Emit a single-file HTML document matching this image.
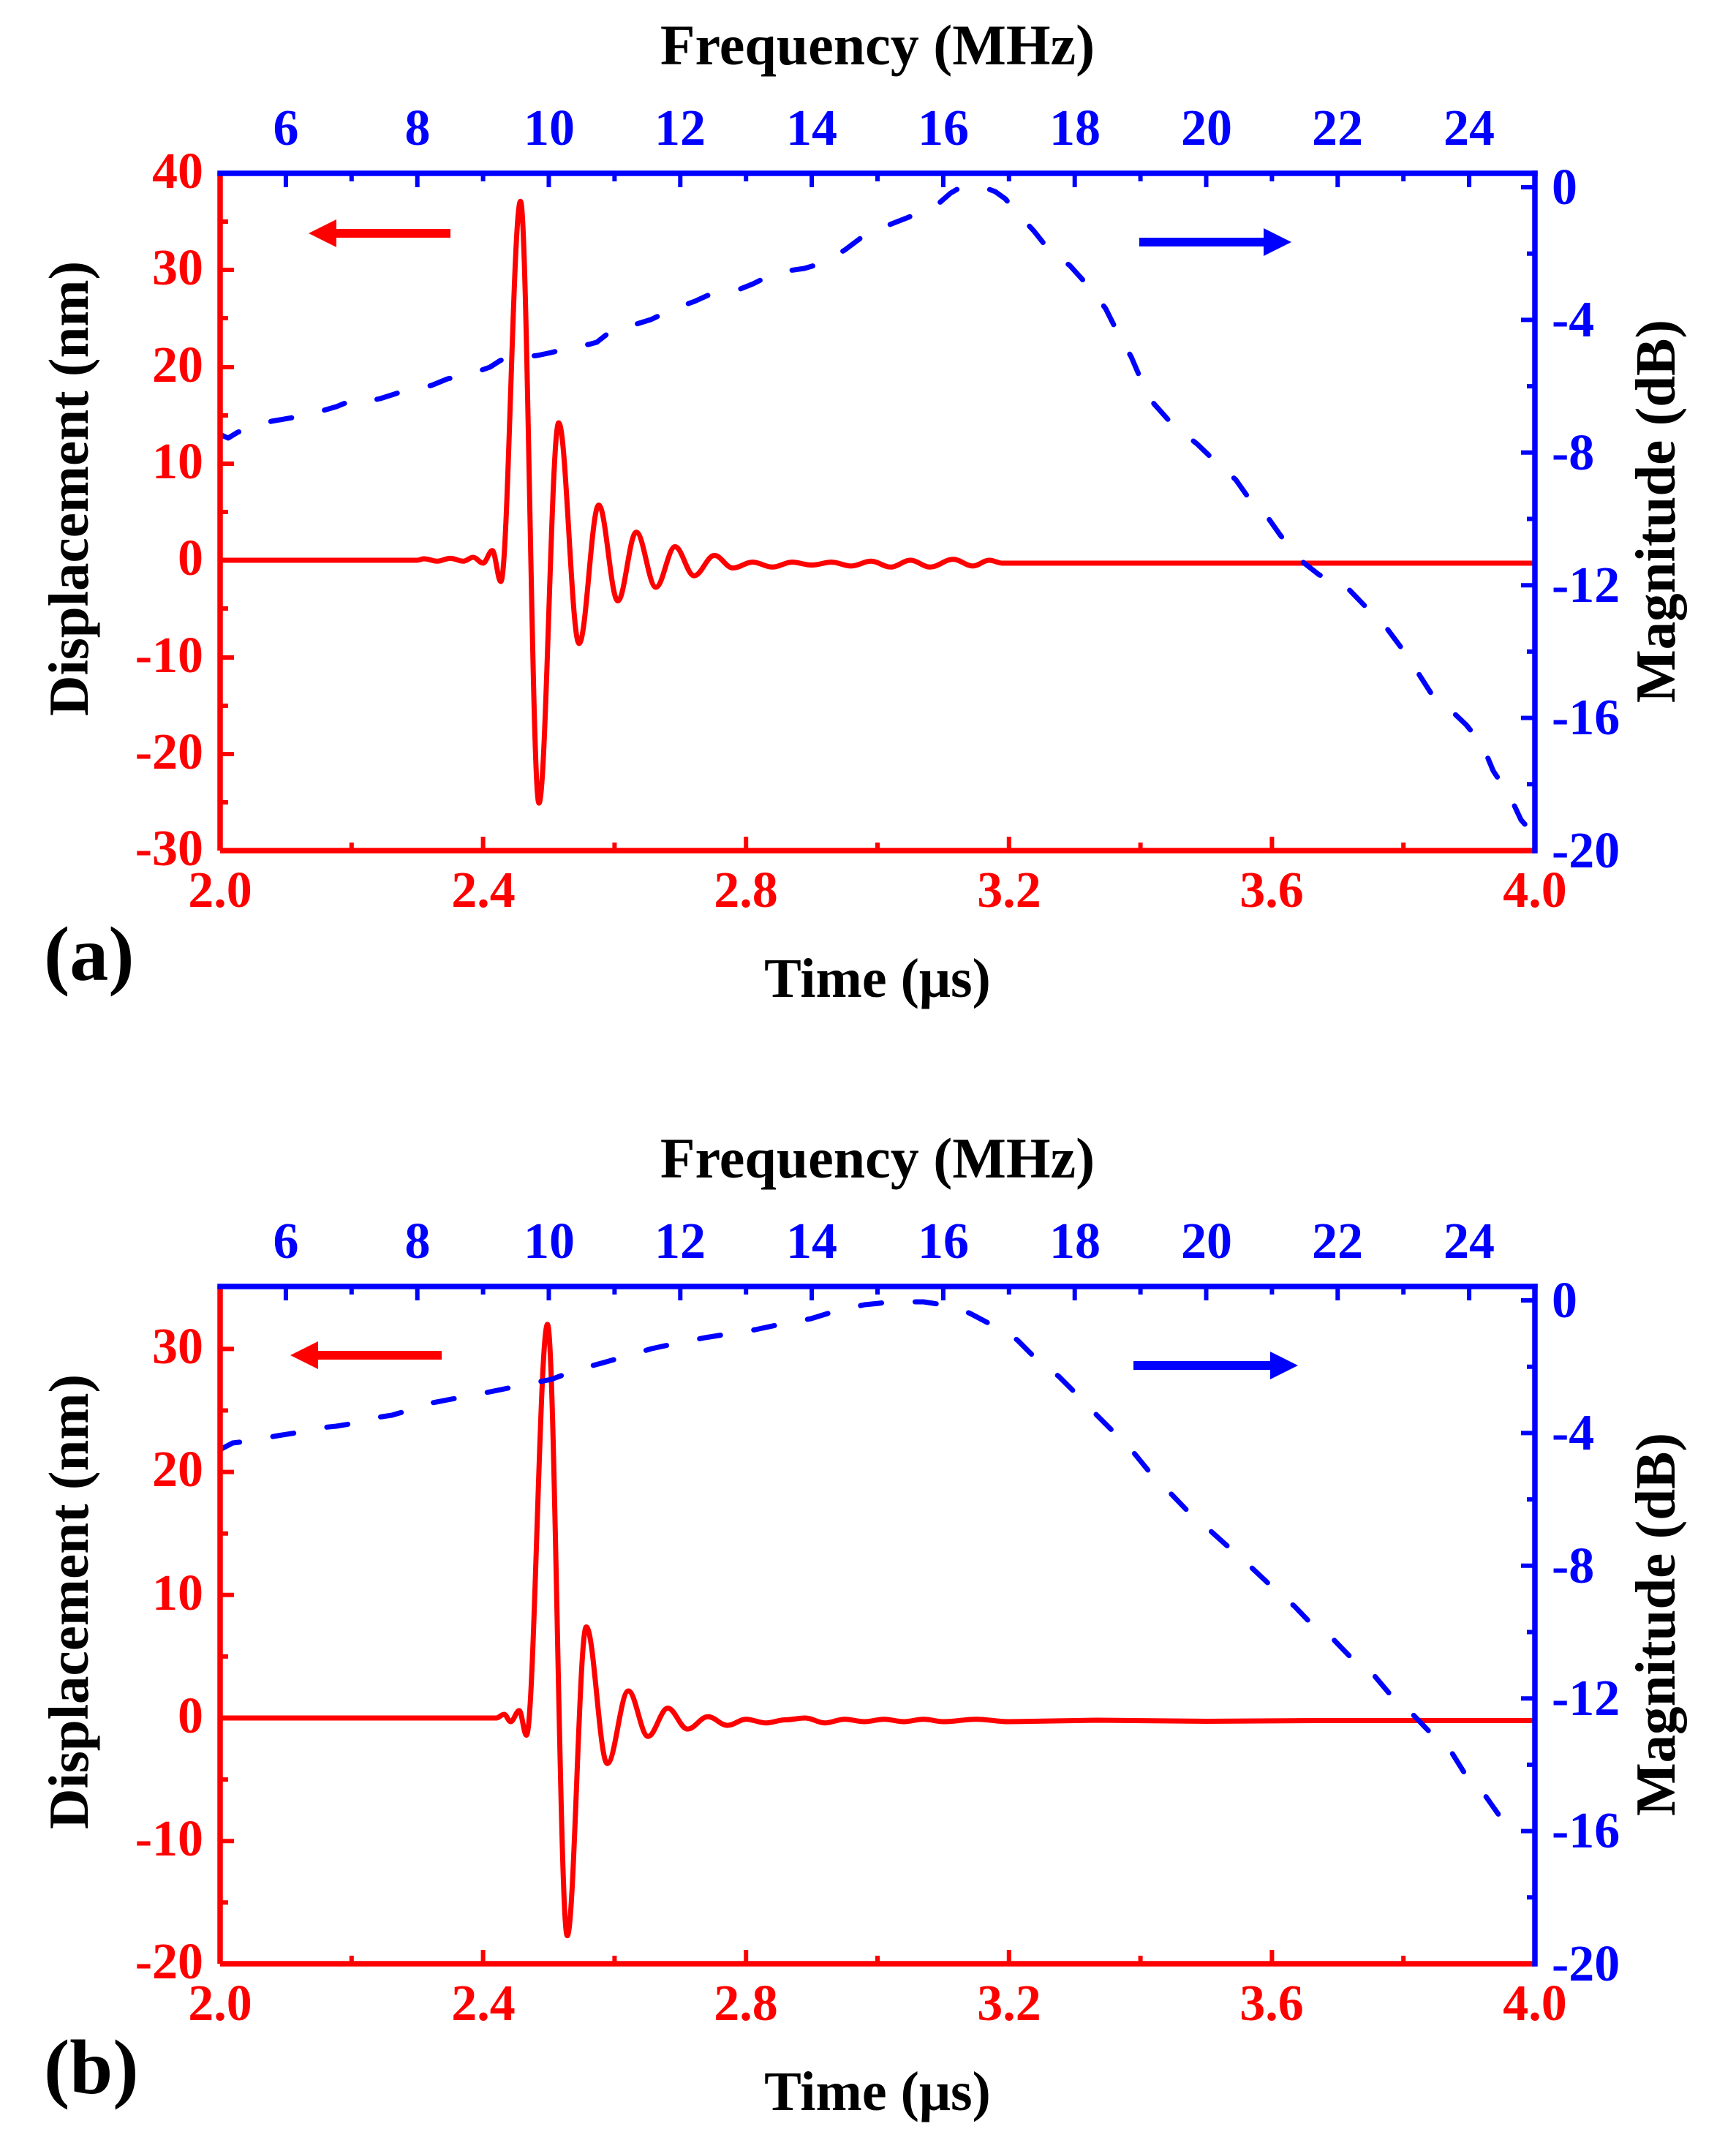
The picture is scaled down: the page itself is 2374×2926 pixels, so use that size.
<!DOCTYPE html>
<html>
<head>
<meta charset="utf-8">
<style>
html,body{margin:0;padding:0;background:#fff;}
svg{display:block;}
text{font-family:"Liberation Serif","Times New Roman",serif;font-weight:bold;}
</style>
</head>
<body>
<svg width="2374" height="2926" viewBox="0 0 2374 2926" xmlns="http://www.w3.org/2000/svg">
<rect x="0" y="0" width="2374" height="2926" fill="#fff"/>

<!-- ================= PANEL (a) ================= -->
<g id="pa">
  <!-- data: red waveform -->
  <path fill="none" stroke="#ff0000" stroke-width="7" stroke-linejoin="round" stroke-linecap="round"
    d="M301,766 L570.7,766
    C574,766 576.4,764 579.7,764
    C586.3,764 591.2,767.3 597.7,767.3
    C604.3,767.3 609.2,763.4 615.7,763.4
    C622.2,763.4 627.1,767.3 633.6,767.3
    C638.5,767.3 642.2,762 647.1,762
    C652,762 655.7,770 660.6,770
    C665.2,770 668.6,752.8 673.2,752.8
    C677.5,752.8 680.6,795.1 684.9,795.1
    C694.7,795.1 702,275.2 711.8,275.2
    C721,275.2 727.8,1098.1 737,1098.1
    C746.8,1098.1 754.2,578.1 764,578.1
    C774.2,578.1 781.7,879.8 791.9,879.8
    C801.7,879.8 809,690.6 818.8,690.6
    C828.3,690.6 835.4,821.6 844.9,821.6
    C854.1,821.6 860.9,727.6 870.1,727.6
    C879.9,727.6 887.2,803 897,803
    C906.5,803 913.6,747.5 923.1,747.5
    C932.6,747.5 939.7,787.2 949.2,787.2
    C959.3,787.2 966.9,759.4 977,759.4
    C986.2,759.4 993,776.6 1002.2,776.6
    C1012,776.6 1019.4,768.6 1029.2,768.6
    C1039,768.6 1046.4,775.3 1056.2,775.3
    C1066,775.3 1073.3,768.6 1083.1,768.6
    C1092.9,768.6 1100.3,772.6 1110.1,772.6
    C1119.9,772.6 1127.3,768.6 1137.1,768.6
    C1146.9,768.6 1154.2,773.9 1164,773.9
    C1173.8,773.9 1181.2,767.3 1191,767.3
    C1200.8,767.3 1208.2,775.3 1218,775.3
    C1227.8,775.3 1235.2,766 1245,766
    C1254.8,766 1262.1,775.3 1271.9,775.3
    C1283.4,775.3 1291.9,764.7 1303.4,764.7
    C1313.2,764.7 1320.6,773.9 1330.4,773.9
    C1338.6,773.9 1344.6,766 1352.8,766
    C1359.4,766 1364.2,770 1370.8,770
    L2099,770"/>
  <!-- data: blue dashed spectrum -->
  <polyline fill="none" stroke="#0000ff" stroke-width="7" stroke-linejoin="round" stroke-linecap="round" stroke-dasharray="29 46"
    points="301,594 312,599 325,591 345,584 371,576 400,571 436,563 460,556 480,548 494,545 506,548 520,545 545,537 562,533 590,527 612,518 631,514 650,509 670,502 684,493 698,488 715,488 735,486 754,482 773,477 790,472 805,471 816,468 830,457 845,449 864,445 890,437 922,422 950,412 972,402 991,399 1010,396 1030,388 1048,379 1064,374 1079,370 1100,367 1117,362 1136,353 1155,342 1171,330 1187,318 1217,307 1240,298 1259,290 1285,277 1300,264 1312,257 1327,255 1345,256 1361,262 1375,272 1388,288 1414,316 1437,345 1463,363 1490,393 1512,422 1530,458 1547,488 1562,523 1578,552 1603,580 1637,607 1660,629 1690,656 1709,683 1732,705 1751,732 1781,768 1804,786 1838,799 1864,826 1895,857 1918,888 1936,915 1959,951 1986,973 2005,991 2027,1018 2042,1054 2065,1089 2080,1121 2097,1140"/>

  <!-- arrows -->
  <line x1="616" y1="319" x2="452" y2="319" stroke="#ff0000" stroke-width="12"/>
  <polygon points="422,319 460,300 460,338" fill="#ff0000"/>
  <line x1="1558" y1="331" x2="1732" y2="331" stroke="#0000ff" stroke-width="12"/>
  <polygon points="1766,331 1728,312 1728,350" fill="#0000ff"/>

  <!-- red axes + ticks -->
  <g stroke="#ff0000" stroke-width="7.5" fill="none">
    <line x1="301" y1="237" x2="301" y2="1163"/>
    <line x1="301" y1="1163" x2="2099" y2="1163"/>
  </g>
  <path stroke="#ff0000" stroke-width="6" fill="none"
    d="M301,369H320 M301,502H320 M301,634H320 M301,766H320 M301,899H320 M301,1031H320
       M301,303H312 M301,435H312 M301,568H312 M301,700H312 M301,832H312 M301,965H312 M301,1097H312
       M660.6,1163V1144 M1020.2,1163V1144 M1379.8,1163V1144 M1739.4,1163V1144
       M480.8,1163V1152 M840.4,1163V1152 M1200,1163V1152 M1559.6,1163V1152 M1919.2,1163V1152"/>
  <!-- blue axes + ticks -->
  <g stroke="#0000ff" stroke-width="7.5" fill="none" stroke-linecap="square">
    <line x1="301" y1="237" x2="2099" y2="237"/>
    <line x1="2099" y1="237" x2="2099" y2="1163"/>
  </g>
  <path stroke="#0000ff" stroke-width="6" fill="none"
    d="M390.9,237V256 M570.7,237V256 M750.5,237V256 M930.3,237V256 M1110.1,237V256 M1289.9,237V256 M1469.7,237V256 M1649.5,237V256 M1829.3,237V256 M2009.1,237V256
       M480.8,237V248 M660.6,237V248 M840.4,237V248 M1020.2,237V248 M1200,237V248 M1379.8,237V248 M1559.6,237V248 M1739.4,237V248 M1919.2,237V248
       M2099,256H2080 M2099,437.4H2080 M2099,618.8H2080 M2099,800.2H2080 M2099,981.6H2080
       M2099,346.7H2088 M2099,528.1H2088 M2099,709.5H2088 M2099,890.9H2088 M2099,1072.3H2088"/>

  <!-- left tick labels -->
  <g fill="#ff0000" font-size="70" text-anchor="end">
    <text x="278" y="257">40</text>
    <text x="278" y="389">30</text>
    <text x="278" y="522">20</text>
    <text x="278" y="654">10</text>
    <text x="278" y="786">0</text>
    <text x="278" y="919">-10</text>
    <text x="278" y="1051">-20</text>
    <text x="278" y="1183">-30</text>
  </g>
  <!-- bottom tick labels -->
  <g fill="#ff0000" font-size="70" text-anchor="middle">
    <text x="301" y="1240">2.0</text>
    <text x="661" y="1240">2.4</text>
    <text x="1020" y="1240">2.8</text>
    <text x="1380" y="1240">3.2</text>
    <text x="1739" y="1240">3.6</text>
    <text x="2099" y="1240">4.0</text>
  </g>
  <!-- top tick labels -->
  <g fill="#0000ff" font-size="70" text-anchor="middle">
    <text x="391" y="198">6</text>
    <text x="571" y="198">8</text>
    <text x="751" y="198">10</text>
    <text x="930" y="198">12</text>
    <text x="1110" y="198">14</text>
    <text x="1290" y="198">16</text>
    <text x="1470" y="198">18</text>
    <text x="1650" y="198">20</text>
    <text x="1829" y="198">22</text>
    <text x="2009" y="198">24</text>
  </g>
  <!-- right tick labels -->
  <g fill="#0000ff" font-size="70" text-anchor="start">
    <text x="2122" y="279">0</text>
    <text x="2122" y="460">-4</text>
    <text x="2122" y="642">-8</text>
    <text x="2122" y="823">-12</text>
    <text x="2122" y="1004">-16</text>
    <text x="2122" y="1186">-20</text>
  </g>
  <!-- titles -->
  <g fill="#000">
    <text x="1200" y="88" font-size="78" text-anchor="middle">Frequency (MHz)</text>
    <text x="1200" y="1363" font-size="76" text-anchor="middle">Time (μs)</text>
    <text x="60" y="1340" font-size="106">(a)</text>
    <text transform="translate(120,668) rotate(-90)" font-size="77" text-anchor="middle">Displacement (nm)</text>
    <text transform="translate(2290,699) rotate(-90)" font-size="77" text-anchor="middle">Magnitude (dB)</text>
  </g>
</g>

<!-- ================= PANEL (b) ================= -->
<g id="pb">
  <!-- data: red waveform -->
  <path fill="none" stroke="#ff0000" stroke-width="7" stroke-linejoin="round" stroke-linecap="round"
    d="M301,2349 L678.6,2349
    C682.5,2349 685.5,2344 689.4,2344
    C692.7,2344 695.1,2354 698.4,2354
    C702.6,2354 705.8,2338.9 710,2338.9
    C713.6,2338.9 716.3,2372.5 719.9,2372.5
    C730.4,2372.5 738.2,1810.8 748.7,1810.8
    C758.5,1810.8 765.9,2646.7 775.7,2646.7
    C785.2,2646.7 792.2,2224.5 801.7,2224.5
    C812.2,2224.5 820,2411.2 830.5,2411.2
    C841,2411.2 848.8,2312 859.3,2312
    C869.1,2312 876.4,2374.2 886.2,2374.2
    C896,2374.2 903.4,2335.5 913.2,2335.5
    C923,2335.5 930.4,2364.1 940.2,2364.1
    C950.4,2364.1 957.9,2347.3 968.1,2347.3
    C977.9,2347.3 985.2,2359.1 995,2359.1
    C1004.2,2359.1 1011,2350.7 1020.2,2350.7
    C1030,2350.7 1037.4,2355.7 1047.2,2355.7
    C1057,2355.7 1064.3,2351.5 1074.1,2351.5
    C1083.9,2351.5 1091.3,2349 1101.1,2349
    C1110.9,2349 1118.3,2355.7 1128.1,2355.7
    C1137.9,2355.7 1145.3,2350.7 1155.1,2350.7
    C1164.9,2350.7 1172.2,2354 1182,2354
    C1191.8,2354 1199.2,2350.7 1209,2350.7
    C1218.8,2350.7 1226.2,2354 1236,2354
    C1245.8,2354 1253.1,2350.7 1262.9,2350.7
    C1272.7,2350.7 1280.1,2354 1289.9,2354
    C1306.3,2354 1318.5,2350.7 1334.9,2350.7
    C1351.2,2350.7 1363.5,2354 1379.8,2354
    L1500,2352 L1650,2353.5 L1800,2352.5 L2099,2352.5"/>
  <!-- data: blue dashed spectrum -->
  <polyline fill="none" stroke="#0000ff" stroke-width="7" stroke-linejoin="round" stroke-linecap="round" stroke-dasharray="29 46"
    points="301,1982 318,1973 335,1971 352,1968 380,1963 405,1959 440,1952 460,1950 478,1947 509,1939 536,1935 560,1928 581,1920 612,1914 650,1907 685,1900 719,1893 754,1886 770,1880 788,1873 822,1864 861,1853 891,1844 933,1835 964,1829 1002,1823 1033,1818 1075,1809 1109,1803 1148,1791 1182,1784 1202,1782 1217,1780 1263,1780 1289,1784 1310,1789 1327,1796 1361,1814 1391,1832 1418,1859 1448,1882 1471,1905 1497,1932 1520,1955 1547,1982 1573,2014 1600,2041 1626,2068 1653,2091 1683,2118 1709,2141 1743,2173 1770,2196 1796,2223 1823,2241 1849,2268 1876,2287 1902,2318 1929,2341 1955,2368 1982,2391 2005,2428 2031,2455 2050,2482 2072,2505 2078,2510"/>

  <!-- arrows -->
  <line x1="604" y1="1853" x2="430" y2="1853" stroke="#ff0000" stroke-width="12"/>
  <polygon points="397,1853 435,1834 435,1872" fill="#ff0000"/>
  <line x1="1550" y1="1867" x2="1742" y2="1867" stroke="#0000ff" stroke-width="12"/>
  <polygon points="1775,1867 1737,1848 1737,1886" fill="#0000ff"/>

  <!-- red axes + ticks -->
  <g stroke="#ff0000" stroke-width="7.5" fill="none">
    <line x1="301" y1="1759" x2="301" y2="2685"/>
    <line x1="301" y1="2685" x2="2099" y2="2685"/>
  </g>
  <path stroke="#ff0000" stroke-width="6" fill="none"
    d="M301,1844.4H320 M301,2012.6H320 M301,2180.8H320 M301,2349H320 M301,2517.2H320
       M301,1928.5H312 M301,2096.7H312 M301,2264.9H312 M301,2433.1H312 M301,2601.3H312
       M660.6,2685V2666 M1020.2,2685V2666 M1379.8,2685V2666 M1739.4,2685V2666
       M480.8,2685V2674 M840.4,2685V2674 M1200,2685V2674 M1559.6,2685V2674 M1919.2,2685V2674"/>
  <!-- blue axes + ticks -->
  <g stroke="#0000ff" stroke-width="7.5" fill="none" stroke-linecap="square">
    <line x1="301" y1="1759" x2="2099" y2="1759"/>
    <line x1="2099" y1="1759" x2="2099" y2="2685"/>
  </g>
  <path stroke="#0000ff" stroke-width="6" fill="none"
    d="M390.9,1759V1778 M570.7,1759V1778 M750.5,1759V1778 M930.3,1759V1778 M1110.1,1759V1778 M1289.9,1759V1778 M1469.7,1759V1778 M1649.5,1759V1778 M1829.3,1759V1778 M2009.1,1759V1778
       M480.8,1759V1770 M660.6,1759V1770 M840.4,1759V1770 M1020.2,1759V1770 M1200,1759V1770 M1379.8,1759V1770 M1559.6,1759V1770 M1739.4,1759V1770 M1919.2,1759V1770
       M2099,1778H2080 M2099,1959.4H2080 M2099,2140.8H2080 M2099,2322.2H2080 M2099,2503.6H2080
       M2099,1868.7H2088 M2099,2050.1H2088 M2099,2231.5H2088 M2099,2412.9H2088 M2099,2594.3H2088"/>

  <!-- left tick labels -->
  <g fill="#ff0000" font-size="70" text-anchor="end">
    <text x="278" y="1864">30</text>
    <text x="278" y="2032">20</text>
    <text x="278" y="2201">10</text>
    <text x="278" y="2369">0</text>
    <text x="278" y="2537">-10</text>
    <text x="278" y="2705">-20</text>
  </g>
  <!-- bottom tick labels -->
  <g fill="#ff0000" font-size="70" text-anchor="middle">
    <text x="301" y="2762">2.0</text>
    <text x="661" y="2762">2.4</text>
    <text x="1020" y="2762">2.8</text>
    <text x="1380" y="2762">3.2</text>
    <text x="1739" y="2762">3.6</text>
    <text x="2099" y="2762">4.0</text>
  </g>
  <!-- top tick labels -->
  <g fill="#0000ff" font-size="70" text-anchor="middle">
    <text x="391" y="1720">6</text>
    <text x="571" y="1720">8</text>
    <text x="751" y="1720">10</text>
    <text x="930" y="1720">12</text>
    <text x="1110" y="1720">14</text>
    <text x="1290" y="1720">16</text>
    <text x="1470" y="1720">18</text>
    <text x="1650" y="1720">20</text>
    <text x="1829" y="1720">22</text>
    <text x="2009" y="1720">24</text>
  </g>
  <!-- right tick labels -->
  <g fill="#0000ff" font-size="70" text-anchor="start">
    <text x="2122" y="1801">0</text>
    <text x="2122" y="1982">-4</text>
    <text x="2122" y="2164">-8</text>
    <text x="2122" y="2345">-12</text>
    <text x="2122" y="2526">-16</text>
    <text x="2122" y="2708">-20</text>
  </g>
  <!-- titles -->
  <g fill="#000">
    <text x="1200" y="1610" font-size="78" text-anchor="middle">Frequency (MHz)</text>
    <text x="1200" y="2885" font-size="76" text-anchor="middle">Time (μs)</text>
    <text x="60" y="2862" font-size="106">(b)</text>
    <text transform="translate(120,2190) rotate(-90)" font-size="77" text-anchor="middle">Displacement (nm)</text>
    <text transform="translate(2290,2221) rotate(-90)" font-size="77" text-anchor="middle">Magnitude (dB)</text>
  </g>
</g>
</svg>
</body>
</html>
